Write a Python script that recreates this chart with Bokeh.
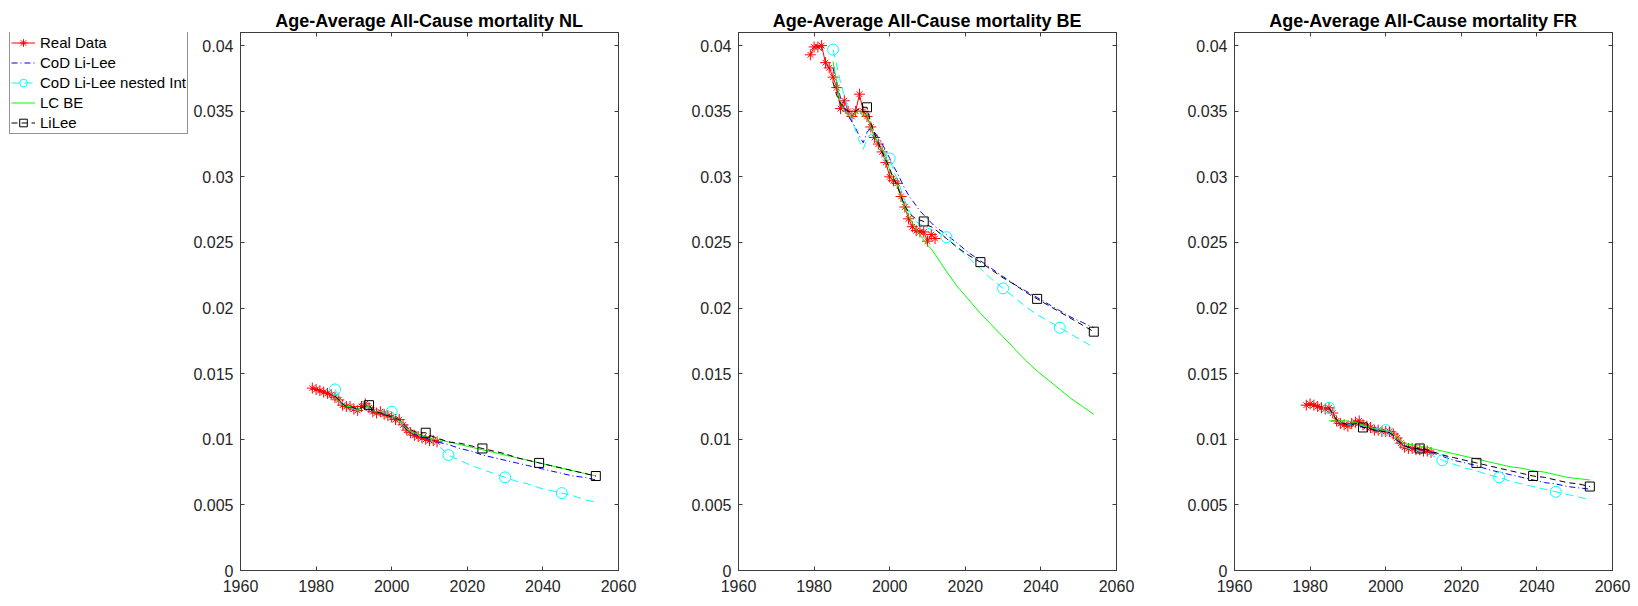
from bokeh.plotting import figure
from bokeh.layouts import row
from bokeh.models import Range1d, LinearAxis, FixedTicker, Legend, LegendItem
from bokeh.embed import file_html
from bokeh.resources import INLINE

# ---------------- data ----------------
DATA_YEARS = [1979, 1980, 1981, 1982, 1983, 1984, 1985, 1986, 1987, 1988,
              1989, 1990, 1991, 1992, 1993, 1994, 1995, 1996, 1997, 1998,
              1999, 2000, 2001, 2002, 2003, 2004, 2005, 2006, 2007, 2008,
              2009, 2010, 2011, 2012]
MODEL_YEARS = [1985, 1986, 1987, 1988, 1989, 1990, 1991, 1992, 1993, 1994,
               1995, 1996, 1997, 1998, 1999, 2000, 2001, 2002, 2003, 2004,
               2005, 2006, 2007, 2008, 2009, 2010, 2011, 2012,
               2015, 2018, 2021, 2024, 2027, 2030, 2033, 2036, 2039, 2042,
               2045, 2048, 2051, 2054]
CIRCLE_YEARS = [1985, 2000, 2015, 2030, 2045]
SQUARE_YEARS = [1994, 2009, 2024, 2039, 2054]

NL_REAL = [0.0139, 0.0138, 0.0137, 0.0136, 0.0135, 0.0134, 0.0132, 0.0130, 0.0126, 0.0125,
           0.0125, 0.0123, 0.0122, 0.0125, 0.0127, 0.0124, 0.0121, 0.0120, 0.0121, 0.0119,
           0.0118, 0.0117, 0.0115, 0.0115, 0.0111, 0.0107, 0.0105, 0.0103, 0.0102, 0.0101,
           0.0100, 0.0099, 0.0099, 0.0098]
NL_COD = [0.0133, 0.0130, 0.0127, 0.0125, 0.0124, 0.0123, 0.0123, 0.0124, 0.0124, 0.0123,
          0.0122, 0.0121, 0.0120, 0.0119, 0.0118, 0.0117, 0.0116, 0.0114, 0.0110, 0.0107,
          0.0105, 0.0104, 0.0103, 0.0102, 0.0101, 0.0100, 0.0099, 0.0098,
          0.0096, 0.0093, 0.0091, 0.0088, 0.0086, 0.0084, 0.0082, 0.0080, 0.0078, 0.0076,
          0.0074, 0.0072, 0.0071, 0.0069]
NL_NESTED = [0.0138, 0.0133, 0.0128, 0.0125, 0.0124, 0.0123, 0.0122, 0.0123, 0.0124, 0.0124,
             0.0122, 0.0121, 0.0121, 0.0121, 0.0121, 0.0121, 0.0118, 0.0115, 0.0111, 0.0108,
             0.0106, 0.0104, 0.0103, 0.0102, 0.0102, 0.0100, 0.0098, 0.0096,
             0.0088, 0.0084, 0.0080, 0.0077, 0.0074, 0.0071, 0.0068, 0.0066, 0.0063, 0.0061,
             0.0059, 0.0057, 0.0054, 0.0052]
NL_LCBE = [0.0132, 0.0129, 0.0126, 0.0125, 0.0125, 0.0124, 0.0123, 0.0124, 0.0125, 0.0125,
           0.0122, 0.0121, 0.0120, 0.0120, 0.0118, 0.0117, 0.0116, 0.0114, 0.0111, 0.0108,
           0.0106, 0.0105, 0.0104, 0.0103, 0.0102, 0.0101, 0.0100, 0.0100,
           0.0098, 0.0096, 0.0094, 0.0092, 0.0090, 0.0088, 0.0086, 0.0084, 0.0082, 0.0080,
           0.0078, 0.0076, 0.0074, 0.0072]
NL_LILEE = [0.0133, 0.0130, 0.0127, 0.0125, 0.0125, 0.0124, 0.0123, 0.0124, 0.0125, 0.0126,
            0.0122, 0.0121, 0.0120, 0.0119, 0.0118, 0.0117, 0.0116, 0.0115, 0.0112, 0.0109,
            0.0107, 0.0106, 0.0105, 0.0105, 0.0105, 0.0103, 0.0102, 0.0101,
            0.0098, 0.0097, 0.0095, 0.0093, 0.0091, 0.0089, 0.0086, 0.0084, 0.0082, 0.0080,
            0.0078, 0.0076, 0.0074, 0.0072]

BE_REAL = [0.0393, 0.0399, 0.0399, 0.0400, 0.0387, 0.0383, 0.0376, 0.0368, 0.0352, 0.0358,
           0.0350, 0.0346, 0.0350, 0.0363, 0.0350, 0.0346, 0.0338, 0.0330, 0.0325, 0.0319,
           0.0311, 0.0300, 0.0297, 0.0295, 0.0285, 0.0277, 0.0268, 0.0262, 0.0259, 0.0258,
           0.0258, 0.0251, 0.0256, 0.0253]
BE_COD = [0.0383, 0.0372, 0.0360, 0.0352, 0.0347, 0.0342, 0.0337, 0.0331, 0.0326, 0.0334,
          0.0337, 0.0334, 0.0330, 0.0325, 0.0320, 0.0314, 0.0308, 0.0303, 0.0297, 0.0291,
          0.0286, 0.0282, 0.0278, 0.0274, 0.0271, 0.0268, 0.0265, 0.0262,
          0.0256, 0.0249, 0.0242, 0.0236, 0.0230, 0.0224, 0.0218, 0.0213, 0.0208, 0.0203,
          0.0198, 0.0193, 0.0189, 0.0185]
BE_NESTED = [0.0397, 0.0385, 0.0372, 0.0362, 0.0352, 0.0344, 0.0335, 0.0327, 0.0321, 0.0329,
             0.0333, 0.0330, 0.0326, 0.0321, 0.0317, 0.0314, 0.0305, 0.0298, 0.0290, 0.0282,
             0.0275, 0.0270, 0.0266, 0.0264, 0.0262, 0.0261, 0.0260, 0.0259,
             0.0254, 0.0246, 0.0238, 0.0230, 0.0222, 0.0215, 0.0208, 0.0201, 0.0195, 0.0190,
             0.0185, 0.0180, 0.0175, 0.0170]
BE_LCBE = [0.0388, 0.0372, 0.0356, 0.0350, 0.0347, 0.0345, 0.0349, 0.0350, 0.0346, 0.0348,
           0.0338, 0.0331, 0.0326, 0.0320, 0.0316, 0.0305, 0.0298, 0.0294, 0.0284, 0.0277,
           0.0270, 0.0265, 0.0260, 0.0256, 0.0252, 0.0248, 0.0245, 0.0241,
           0.0228, 0.0216, 0.0206, 0.0196, 0.0187, 0.0178, 0.0169, 0.0160, 0.0152, 0.0145,
           0.0138, 0.0131, 0.0125, 0.0119]
BE_LILEE = [0.0372, 0.0362, 0.0356, 0.0352, 0.0350, 0.0349, 0.0350, 0.0352, 0.0353, 0.0353,
            0.0341, 0.0333, 0.0326, 0.0319, 0.0313, 0.0306, 0.0299, 0.0293, 0.0285, 0.0278,
            0.0273, 0.0270, 0.0268, 0.0267, 0.0266, 0.0263, 0.0262, 0.0260,
            0.0253, 0.0246, 0.0240, 0.0235, 0.0229, 0.0223, 0.0218, 0.0212, 0.0207, 0.0202,
            0.0197, 0.0192, 0.0187, 0.0182]

FR_REAL = [0.0126, 0.0127, 0.0126, 0.0125, 0.0124, 0.0123, 0.0124, 0.0120, 0.0114, 0.0112,
           0.0111, 0.0110, 0.0112, 0.0113, 0.0114, 0.0111, 0.0110, 0.0109, 0.0107, 0.0107,
           0.0106, 0.0106, 0.0106, 0.0104, 0.0101, 0.0097, 0.0094, 0.0093, 0.0093, 0.0092,
           0.0092, 0.0091, 0.0091, 0.0090]
FR_COD = [0.0124, 0.0119, 0.0115, 0.0113, 0.0112, 0.0111, 0.0111, 0.0111, 0.0110, 0.0109,
          0.0109, 0.0108, 0.0107, 0.0107, 0.0106, 0.0106, 0.0105, 0.0102, 0.0099, 0.0097,
          0.0095, 0.0094, 0.0093, 0.0093, 0.0092, 0.0092, 0.0091, 0.0090,
          0.0087, 0.0084, 0.0082, 0.0080, 0.0077, 0.0075, 0.0073, 0.0071, 0.0069, 0.0067,
          0.0066, 0.0064, 0.0063, 0.0062]
FR_NESTED = [0.0124, 0.0119, 0.0115, 0.0113, 0.0112, 0.0111, 0.0111, 0.0112, 0.0112, 0.0110,
             0.0110, 0.0109, 0.0108, 0.0108, 0.0107, 0.0107, 0.0106, 0.0103, 0.0099, 0.0096,
             0.0094, 0.0093, 0.0092, 0.0092, 0.0091, 0.0090, 0.0089, 0.0088,
             0.0084, 0.0081, 0.0078, 0.0076, 0.0073, 0.0071, 0.0068, 0.0066, 0.0064, 0.0062,
             0.0060, 0.0058, 0.0056, 0.0054]
FR_LCBE = [0.0114, 0.0114, 0.0114, 0.0114, 0.0114, 0.0114, 0.0113, 0.0113, 0.0112, 0.0111,
           0.0110, 0.0109, 0.0108, 0.0107, 0.0107, 0.0106, 0.0106, 0.0104, 0.0101, 0.0099,
           0.0097, 0.0096, 0.0096, 0.0095, 0.0095, 0.0094, 0.0094, 0.0093,
           0.0091, 0.0089, 0.0087, 0.0085, 0.0083, 0.0081, 0.0079, 0.0078, 0.0076, 0.0075,
           0.0073, 0.0071, 0.0070, 0.0069]
FR_LILEE = [0.0124, 0.0119, 0.0115, 0.0113, 0.0112, 0.0111, 0.0111, 0.0112, 0.0111, 0.0109,
            0.0109, 0.0108, 0.0107, 0.0107, 0.0106, 0.0106, 0.0105, 0.0103, 0.0099, 0.0097,
            0.0095, 0.0094, 0.0094, 0.0093, 0.0093, 0.0093, 0.0092, 0.0091,
            0.0088, 0.0086, 0.0084, 0.0082, 0.0080, 0.0078, 0.0076, 0.0074, 0.0072, 0.0071,
            0.0069, 0.0067, 0.0066, 0.0064]

TITLES = ["Age-Average All-Cause mortality NL",
          "Age-Average All-Cause mortality BE",
          "Age-Average All-Cause mortality FR"]
SERIES_NAMES = ["Real Data", "CoD Li-Lee", "CoD Li-Lee nested Int", "LC BE", "LiLee"]
X_TICKS = [1960, 1980, 2000, 2020, 2040, 2060]
X_TICK_LABELS = ["1960", "1980", "2000", "2020", "2040", "2060"]
Y_TICKS = [0, 0.005, 0.01, 0.015, 0.02, 0.025, 0.03, 0.035, 0.04]
Y_TICK_LABELS = ["0", "0.005", "0.01", "0.015", "0.02", "0.025", "0.03", "0.035", "0.04"]

# ---------------- style ----------------
FONT = "Liberation Sans"
AXC = "#3c3c3c"
TXT = "#262626"
RED, BLUE, CYAN, GREEN, BLACK = "#ff0000", "#0000ff", "#00ffff", "#00ff00", "#000000"


def pick(years, vals, wanted):
    return [vals[years.index(y)] for y in wanted]


def style_axis(ax, labels=True, standoff=8):
    ax.axis_line_color = AXC
    ax.major_tick_line_color = AXC
    ax.major_tick_in = 4
    ax.major_tick_out = 0
    ax.minor_tick_in = 0
    ax.minor_tick_out = 0
    ax.minor_tick_line_color = None
    ax.major_label_text_font = FONT
    if labels:
        ax.major_label_text_color = TXT
        ax.major_label_text_font_size = "16px"
        ax.major_label_standoff = standoff
    else:
        ax.major_label_text_color = None
        ax.major_label_text_font_size = "1px"
        ax.major_label_standoff = 0


def draw_series(p, real, cod, nested, lcbe, lilee):
    r_line = p.line(DATA_YEARS, real, line_color=RED, line_width=1)
    r_c = p.scatter(DATA_YEARS, real, marker="cross", size=11, line_color=RED, line_width=1)
    r_x = p.scatter(DATA_YEARS, real, marker="x", size=8, line_color=RED, line_width=1)
    c_line = p.line(MODEL_YEARS, cod, line_color=BLUE, line_width=1, line_dash="6 3 1 3")
    n_line = p.line(MODEL_YEARS, nested, line_color=CYAN, line_width=1, line_dash="8 5")
    n_m = p.scatter(CIRCLE_YEARS, pick(MODEL_YEARS, nested, CIRCLE_YEARS), marker="circle",
                    size=11, fill_color=None, line_color=CYAN, line_width=1)
    g_line = p.line(MODEL_YEARS, lcbe, line_color=GREEN, line_width=1)
    l_line = p.line(MODEL_YEARS, lilee, line_color=BLACK, line_width=1, line_dash="6 4")
    l_m = p.scatter(SQUARE_YEARS, pick(MODEL_YEARS, lilee, SQUARE_YEARS), marker="square",
                    size=9, fill_color=None, line_color=BLACK, line_width=1)
    return [[r_line, r_c, r_x], [c_line], [n_line, n_m], [g_line], [l_line, l_m]]


def panel(title, real, cod, nested, lcbe, lilee, left, right):
    p = figure(frame_width=378, frame_height=538,
               min_border_left=left, min_border_right=right,
               min_border_top=32, min_border_bottom=36,
               x_range=Range1d(1960, 2060), y_range=Range1d(0, 0.041),
               output_backend="svg", toolbar_location=None)
    p.title.text = title
    p.title.align = "center"
    p.title.text_font = FONT
    p.title.text_font_size = "18px"
    p.title.text_font_style = "bold"
    p.title.text_color = "#000000"
    p.title.standoff = 4
    p.grid.visible = False
    p.outline_line_color = AXC

    p.xaxis.ticker = FixedTicker(ticks=X_TICKS)
    p.yaxis.ticker = FixedTicker(ticks=Y_TICKS)
    p.xaxis.major_label_overrides = dict(zip(X_TICKS, X_TICK_LABELS))
    p.yaxis.major_label_overrides = dict(zip(Y_TICKS, Y_TICK_LABELS))
    style_axis(p.xaxis[0], True, 9)
    style_axis(p.yaxis[0], True, 7)
    top = LinearAxis(ticker=FixedTicker(ticks=X_TICKS))
    style_axis(top, False)
    p.add_layout(top, "above")
    rgt = LinearAxis(ticker=FixedTicker(ticks=Y_TICKS))
    style_axis(rgt, False)
    p.add_layout(rgt, "right")

    draw_series(p, real, cod, nested, lcbe, lilee)
    return p


# legend-only figure on the far left: it shares the NL series, but its ranges
# show none of their points, so only the legend appears
pl = figure(width=190, height=606, min_border_left=0, min_border_right=0,
            min_border_top=32, min_border_bottom=36,
            x_axis_type=None, y_axis_type=None,
            x_range=Range1d(0, 1), y_range=Range1d(0, 1),
            output_backend="svg", toolbar_location=None)
pl.outline_line_color = None
pl.grid.visible = False
groups = draw_series(pl, NL_REAL, NL_COD, NL_NESTED, NL_LCBE, NL_LILEE)
legend = Legend(items=[LegendItem(label=n, renderers=r) for n, r in zip(SERIES_NAMES, groups)],
                location=(9, 436), orientation="vertical",
                label_text_font=FONT, label_text_font_size="15px", label_text_color="#000000",
                glyph_width=24, glyph_height=19, label_height=19, spacing=1,
                padding=1, margin=0, label_standoff=5,
                border_line_color="#262626", border_line_width=1,
                background_fill_color="white", background_fill_alpha=1.0)
pl.add_layout(legend, "center")

p1 = panel(TITLES[0], NL_REAL, NL_COD, NL_NESTED, NL_LCBE, NL_LILEE, 50, 20)
p2 = panel(TITLES[1], BE_REAL, BE_COD, BE_NESTED, BE_LCBE, BE_LILEE, 100, 18)
p3 = panel(TITLES[2], FR_REAL, FR_COD, FR_NESTED, FR_LCBE, FR_LILEE, 100, 26)

layout = row(pl, p1, p2, p3, spacing=0)
open("out.html", "w").write(file_html(layout, INLINE))
